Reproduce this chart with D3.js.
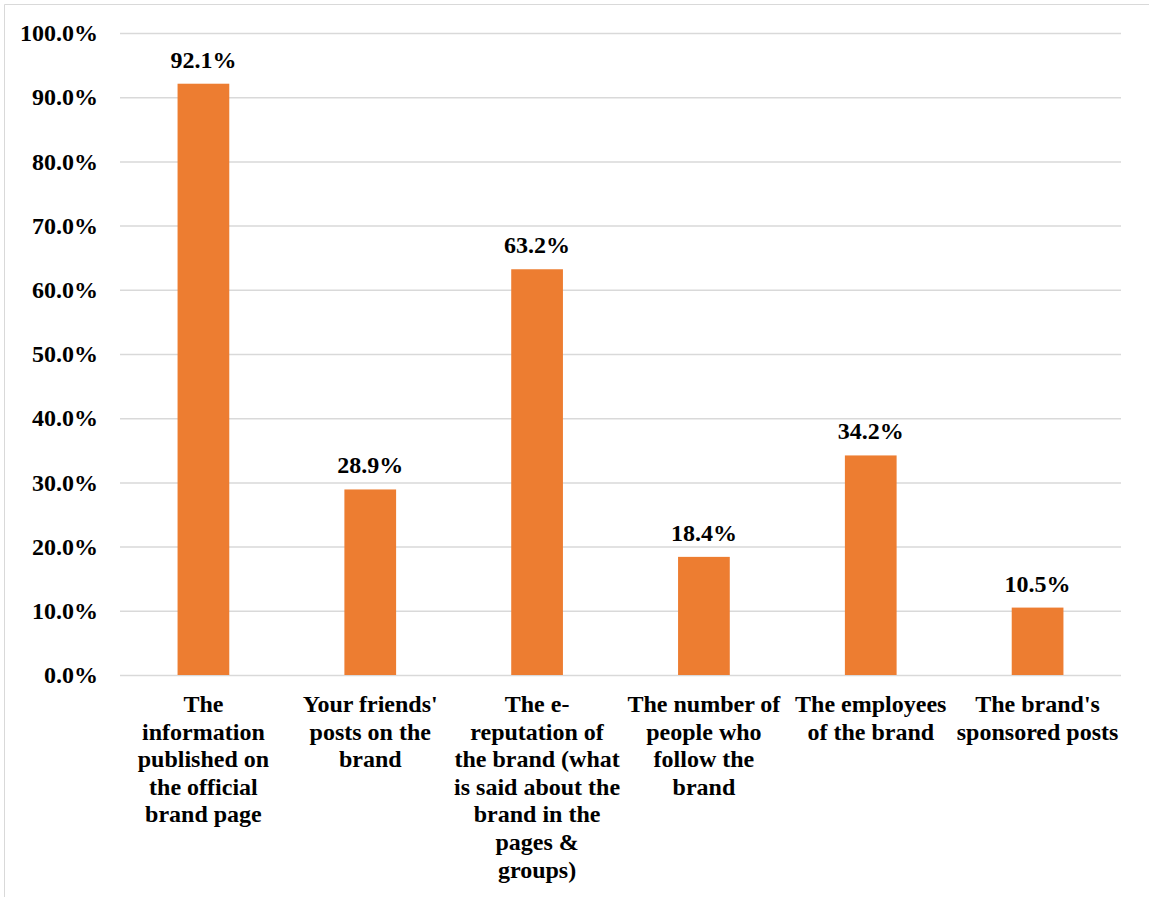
<!DOCTYPE html>
<html><head><meta charset="utf-8">
<script src="https://cdnjs.cloudflare.com/ajax/libs/d3/7.8.5/d3.min.js"></script>
<style>html,body{margin:0;padding:0;background:#fff;}svg{display:block;}</style>
</head><body>
<script>
const categories = [
  "The\ninformation\npublished on\nthe official\nbrand page",
  "Your friends'\nposts on the\nbrand",
  "The e-\nreputation of\nthe brand (what\nis said about the\nbrand in the\npages &\ngroups)",
  "The number of\npeople who\nfollow the\nbrand",
  "The employees\nof the brand",
  "The brand's\nsponsored posts"
];
const values = [92.1, 28.9, 63.2, 18.4, 34.2, 10.5];
const yTicks = [0,10,20,30,40,50,60,70,80,90,100];

const W = 1149, H = 897;
const m = {left:120, right:28, top:33, bottom:222};
const svg = d3.select("body").append("svg").attr("width", W).attr("height", H);
const FONT = '"Liberation Serif"';
function styleText(sel){
  sel.style("font-family", FONT).style("font-weight","bold").style("font-size","24px").style("fill","#000");
}

svg.append("path").attr("d", `M4.5,${H} V4.5 H${W}`).attr("fill","none").attr("stroke","#d9d9d9").attr("stroke-width",1);

const x = d3.scaleBand().domain(d3.range(categories.length)).range([m.left, W - m.right]).paddingInner(0.69).paddingOuter(0.345);
const y = d3.scaleLinear().domain([0,100]).range([H - m.bottom, m.top]);

const yAxis = svg.append("g").attr("transform", `translate(${m.left},0)`)
  .call(d3.axisLeft(y).tickValues(yTicks).tickSize(-(W - m.left - m.right)).tickPadding(22).tickFormat(d => d.toFixed(1) + "%"));
yAxis.select(".domain").remove();
yAxis.selectAll(".tick line").attr("stroke","#d9d9d9").attr("stroke-width",1.5);
styleText(yAxis.selectAll(".tick text"));

svg.append("g").selectAll("rect").data(values).join("rect")
  .attr("x",(d,i)=>x(i)).attr("width",x.bandwidth())
  .attr("y",d=>y(d)).attr("height",d=>y(0)-y(d)).attr("fill","#ED7D31");

styleText(svg.append("g").selectAll("text").data(values).join("text")
  .attr("x",(d,i)=>x(i)+x.bandwidth()/2).attr("y",d=>y(d)-16)
  .attr("text-anchor","middle")
  .text(d=>d.toFixed(1)+"%"));

const xAxis = svg.append("g").attr("transform", `translate(0,${y(0)})`)
  .call(d3.axisBottom(x).tickSize(0).tickFormat(""));
xAxis.select(".domain").remove();
const lab = svg.append("g").selectAll("text").data(categories).join("text")
  .attr("x",(d,i)=>x(i)+x.bandwidth()/2).attr("y", y(0)+37)
  .attr("text-anchor","middle");
styleText(lab);
lab.each(function(d){
  const t = d3.select(this);
  d.split("\n").forEach((ln,k)=>{
    t.append("tspan").attr("x", t.attr("x")).attr("dy", k===0?0:27.6).text(ln);
  });
});
</script>
</body></html>
